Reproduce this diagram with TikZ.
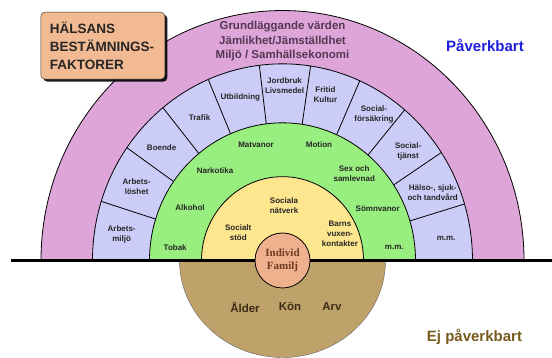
\documentclass[tikz,border=0pt]{standalone}
\usepackage{fontspec}
\setmainfont{Liberation Sans}
\newfontfamily\serifschrift{Liberation Serif}
\usetikzlibrary{shadows}
\definecolor{rosa}{RGB}{222,166,216}
\definecolor{lila}{RGB}{204,204,248}
\definecolor{hellgruen}{RGB}{153,238,128}
\definecolor{gelb}{RGB}{253,230,142}
\definecolor{lachs}{RGB}{239,176,142}
\definecolor{braun}{RGB}{190,162,106}
\definecolor{titelfarbe}{RGB}{242,186,146}
\definecolor{blau}{RGB}{30,30,220}
\definecolor{dunkelbraun}{RGB}{120,90,30}
\definecolor{individfarbe}{RGB}{110,60,35}
\definecolor{rosatext}{RGB}{85,55,85}
\definecolor{erdtext}{RGB}{60,45,20}

\begin{document}
\begin{tikzpicture}[x=1pt, y=1pt,
    ring/.style={draw=black, line width=0.8pt},
    ringtext/.style={font=\fontsize{8}{10}\selectfont\bfseries, align=center, text=black!85, inner sep=0pt},
    titelbox/.style={rectangle, rounded corners=4pt, draw=black!80, fill=titelfarbe,
        minimum height=67pt, text width=106pt, inner xsep=9pt, align=left,
        font=\fontsize{13.5}{18}\selectfont\bfseries, text=black!85,
        drop shadow={shadow xshift=2.5pt, shadow yshift=-2.5pt, fill=black, opacity=0.9}},
    gross/.style={font=\fontsize{15}{18}\selectfont\bfseries}]
    \useasboundingbox (0,0) rectangle (552,358);

    % Ringe (leicht gestreckt wie im Original)
    \begin{scope}[shift={(282.5,97.5)}, yscale=1.035]
        \filldraw[ring, fill=rosa] (0:241.5) arc[start angle=0, end angle=180, radius=241.5] -- cycle;
        \filldraw[ring, fill=lila] (0:190) arc[start angle=0, end angle=180, radius=190] -- cycle;

        % Trennlinien
        \foreach \w in {16.7,33.3,50,66,81.5,97,113,129,145,162.5}
            \draw[ring] (\w:133) -- (\w:190);

        \filldraw[ring, fill=hellgruen] (0:133) arc[start angle=0, end angle=180, radius=133] -- cycle;
        \filldraw[ring, fill=gelb] (0:81) arc[start angle=0, end angle=180, radius=81] -- cycle;

        % Beschriftungen aeusserer Ring
        \foreach \w/\r/\txt/\n in {171.1/162.8/{Arbets-\\miljö}/arbetsmiljo,
                153.9/162.4/{Arbets-\\löshet}/arbetsloshet, 138/162.6/Boende/boende,
                121/161/Trafik/trafik, 105/163/Utbildning/utbildning,
                89.3/169/{Jordbruk\\Livsmedel}/jordbruk, 75/166/{Fritid\\Kultur}/fritid,
                57/168/{Social-\\försäkring}/forsakring, 40/164/{Social-\\tjänst}/tjanst,
                23.7/164/{Hälso-, sjuk-\\och tandvård}/halso, 7.4/165/m.m./mmA}
            \node[ringtext] (\n) at (\w:\r) {\txt};

        % Lebensweise
        \foreach \w/\r/\txt/\n in {173.5/108/Tobak/tobak, 151.2/105.6/Alkohol/alkohol,
                127.8/110/Narkotika/narkotika, 103.3/115/Matvanor/matvanor,
                72/118/Motion/motion, 49.6/110.7/{Sex och\\samlevnad}/sex,
                27.7/107.5/Sömnvanor/somnvanor, 6.3/112.5/m.m./mmB}
            \node[ringtext] (\n) at (\w:\r) {\txt};

        % Soziales Netz
        \foreach \w/\r/\txt/\n in {148.3/52/{Socialt\\stöd}/stod,
                88.4/53/{Sociala\\nätverk}/natverk, 24.2/63/{Barns\\vuxen-\\kontakter}/barns}
            \node[ringtext] (\n) at (\w:\r) {\txt};
    \end{scope}

    % Nicht beeinflussbar
    \filldraw[draw=black!60, fill=braun] (385.5,97.5) arc[start angle=0, end angle=-180, x radius=103, y radius=97] -- cycle;
    \node[font=\fontsize{11.5}{14}\selectfont\bfseries, text=erdtext] (alder) at (245,51) {Ålder};
    \node[font=\fontsize{11.5}{14}\selectfont\bfseries, text=erdtext] (kon) at (290,51) {Kön};
    \node[font=\fontsize{11.5}{14}\selectfont\bfseries, text=erdtext] (arv) at (332,51) {Arv};

    % Grundlinie
    \coordinate (links) at (11,97.5);
    \coordinate (rechts) at (552,97.5);
    \draw[line width=3pt] (links) -- (rechts);

    % Kern
    \node[circle, draw=black, line width=0.8pt, fill=lachs, minimum size=55pt, inner sep=0pt, align=center,
        font=\serifschrift\bfseries\fontsize{11}{13}\selectfont, text=individfarbe] (individ) at (282.5,97.5) {Individ\\Familj};

    % Texte
    \node[font=\fontsize{11.5}{14.5}\selectfont\bfseries, text=rosatext, align=center] (werte) at (282.5,316.8)
        {Grundläggande värden\\Jämlikhet/Jämställdhet\\Miljö / Samhällsekonomi};
    \node[titelbox] (titel) at (102.85,312.35) {HÄLSANS\\BESTÄMNINGS-\\FAKTORER};
    \node[gross, text=blau] (paverkbart) at (485,313) {Påverkbart};
    \node[gross, text=dunkelbraun] (ejpaverkbart) at (474.5,20.7) {Ej påverkbart};
\end{tikzpicture}
\end{document}
